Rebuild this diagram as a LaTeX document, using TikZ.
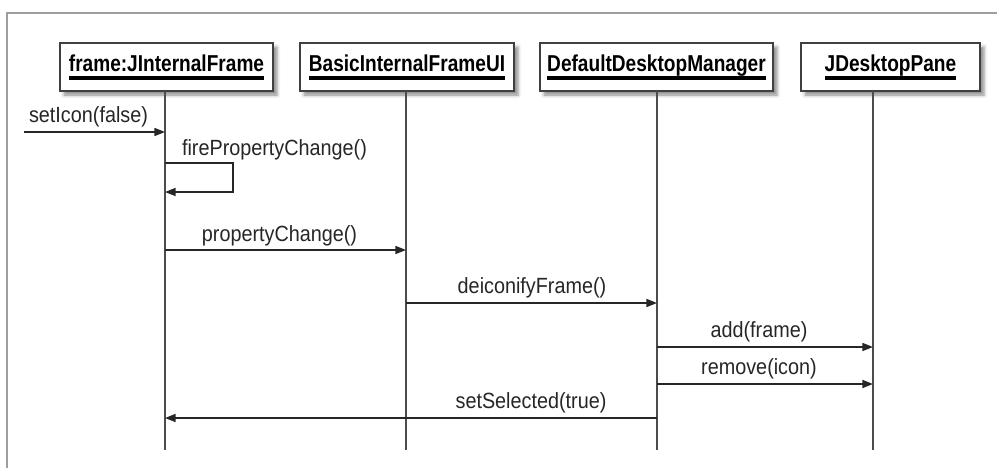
\documentclass[tikz,border=0pt]{standalone}
\usepackage{fontspec}
\setmainfont{Liberation Sans}
\newfontfamily\lblfont[FakeStretch=0.9]{Liberation Sans}
\newfontfamily\boxfont[FakeStretch=0.83]{Liberation Sans}
\usetikzlibrary{arrows.meta,shadows.blur}
\newcommand{\thickul}[1]{\vtop{\hbox{\raisebox{0pt}[\height][0pt]{#1}}\kern 4pt\hrule height 2.3pt}}
\begin{document}
\begin{tikzpicture}[x=0.75pt,y=-0.75pt,
  obj/.style={draw=black!75, line width=1.1pt, fill=white, minimum height=36pt, inner sep=0pt,
    font=\boxfont\bfseries\fontsize{17.25pt}{20pt}\selectfont,
    blur shadow={shadow xshift=3pt, shadow yshift=-3pt, shadow blur radius=2.5pt, shadow opacity=45}},
  lifeline/.style={draw=black!70, line width=1.1pt},
  msg/.style={draw=black!85, line width=1.2pt, -{Triangle[length=8pt,width=6pt]}},
  lbl/.style={inner sep=0pt, text=black!85, font=\lblfont\fontsize{16.5pt}{19pt}\selectfont},
  frameline/.style={draw=black!38, line width=1.6pt}
]
\useasboundingbox (0,0) rectangle (997,468);

% outer frame (open at right and bottom)
\coordinate (fTL) at (7,13);
\coordinate (fTR) at (997,13);
\coordinate (fBL) at (7,468);
\draw[frameline] (fTR) -- (fTL) -- (fBL);

% objects
\node[obj, minimum width=159.75pt] (b1) at (166.5,67) {\thickul{frame:JInternalFrame}};
\node[obj, minimum width=160.5pt]  (b2) at (407,67)   {\thickul{BasicInternalFrameUI}};
\node[obj, minimum width=174.75pt] (b3) at (656.5,67) {\thickul{DefaultDesktopManager}};
\node[obj, minimum width=134.25pt] (b4) at (890.5,67) {\thickul{JDesktopPane}};

% lifelines
\coordinate (l1t) at (165,91);  \coordinate (l1b) at (165,450);
\coordinate (l2t) at (406,91);  \coordinate (l2b) at (406,450);
\coordinate (l3t) at (657,91);  \coordinate (l3b) at (657,450);
\coordinate (l4t) at (873,91);  \coordinate (l4b) at (873,450);
\draw[lifeline] (l1t) -- (l1b);
\draw[lifeline] (l2t) -- (l2b);
\draw[lifeline] (l3t) -- (l3b);
\draw[lifeline] (l4t) -- (l4b);

% messages
\coordinate (m1a) at (24,132);  \coordinate (m1b) at (165,132);
\draw[msg] (m1a) -- (m1b);
\node[lbl] (t1) at (88.5,116.5) {setIcon(false)};

\coordinate (m2a) at (165,163); \coordinate (m2c) at (233,163);
\coordinate (m2d) at (233,192); \coordinate (m2b) at (165,192);
\draw[msg] (m2a) -- (m2c) -- (m2d) -- (m2b);
\node[lbl] (t2) at (274.5,149.5) {firePropertyChange()};

\coordinate (m3a) at (165,250); \coordinate (m3b) at (406,250);
\draw[msg] (m3a) -- (m3b);
\node[lbl] (t3) at (279.5,236) {propertyChange()};

\coordinate (m4a) at (406,303); \coordinate (m4b) at (657,303);
\draw[msg] (m4a) -- (m4b);
\node[lbl] (t4) at (532,288) {deiconifyFrame()};

\coordinate (m5a) at (657,347); \coordinate (m5b) at (873,347);
\draw[msg] (m5a) -- (m5b);
\node[lbl] (t5) at (759,331.5) {add(frame)};

\coordinate (m6a) at (657,384); \coordinate (m6b) at (873,384);
\draw[msg] (m6a) -- (m6b);
\node[lbl] (t6) at (759,368.5) {remove(icon)};

\coordinate (m7a) at (657,418); \coordinate (m7b) at (165,418);
\draw[msg] (m7a) -- (m7b);
\node[lbl] (t7) at (531,403) {setSelected(true)};
\end{tikzpicture}
\end{document}
